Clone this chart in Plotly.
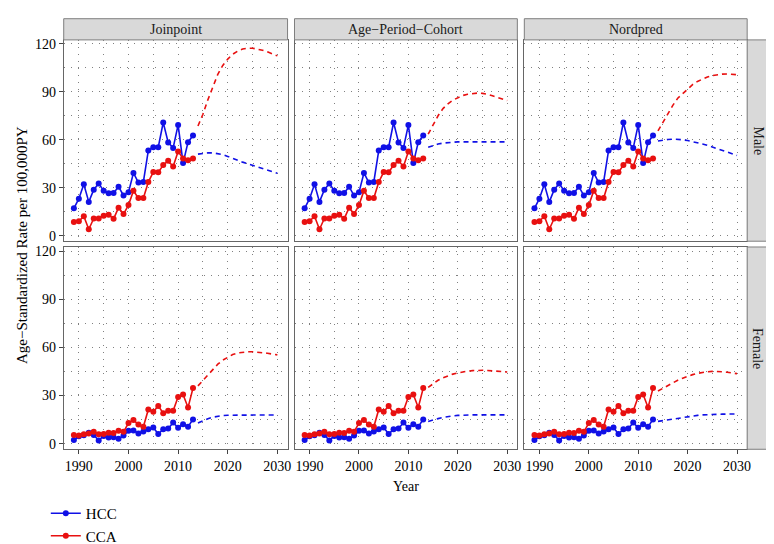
import plotly.graph_objects as go

W, H = 774, 544

obs_years = list(range(1989, 2014))
proj_years = list(range(2014, 2031))
methods = ["Joinpoint", "Age\u2212Period\u2212Cohort", "Nordpred"]
sexes = ["Male", "Female"]
x_ticks = [1990, 2000, 2010, 2020, 2030]
y_ticks = [0, 30, 60, 90, 120]

# Observed series (same in every method column)
male_hcc_obs = [17.1, 23.1, 32.2, 21.1, 28.7, 32.6, 28.1, 26.5, 26.7, 30.6, 25.1, 27.1, 39.2,
                33.2, 33.6, 53.3, 55.3, 55.3, 70.8, 58.3, 54.9, 69.3, 45.4, 58.5, 62.7]
male_cca_obs = [8.6, 9.0, 12.1, 4.0, 10.7, 10.7, 12.5, 13.1, 10.5, 17.5, 13.5, 19.1, 28.1,
                23.5, 23.5, 33.6, 39.8, 39.6, 44.2, 46.8, 43.2, 52.7, 48.2, 47.2, 48.2]
female_hcc_obs = [2.2, 4.6, 5.2, 6.8, 5.4, 2.0, 4.8, 3.8, 4.0, 3.0, 5.0, 8.0, 8.2,
                  6.4, 7.6, 9.0, 10.1, 6.0, 9.0, 9.5, 13.1, 9.9, 12.1, 10.5, 15.1]
female_cca_obs = [5.4, 5.0, 5.8, 6.4, 7.4, 5.8, 6.0, 6.8, 6.6, 8.0, 7.4, 12.8, 14.7,
                  11.9, 10.5, 21.3, 19.9, 23.5, 18.9, 20.5, 20.5, 29.1, 30.6, 22.5, 34.6]

# Projections 2014-2030
male_hcc_jp = [51.0, 51.5, 51.8, 51.8, 51.4, 50.7, 49.6, 48.3, 47.1, 46.0, 45.0, 44.0, 43.0,
               42.0, 41.0, 40.0, 39.0]
male_cca_jp = [68.6, 76.0, 85.0, 93.0, 101.0, 106.5, 110.5, 113.5, 115.5, 116.8, 117.3, 117.3,
               116.8, 116.0, 115.0, 113.8, 112.5]
male_hcc_apc = [55.3, 56.5, 57.3, 57.9, 58.3, 58.5, 58.7, 58.7, 58.7, 58.7, 58.7, 58.7, 58.7,
                58.7, 58.7, 58.7, 58.7]
male_cca_apc = [63.5, 69.5, 75.0, 79.5, 82.5, 84.8, 86.5, 87.7, 88.5, 89.0, 89.2, 89.0, 88.5,
                87.5, 86.5, 85.5, 84.5]
male_hcc_np = [59.2, 59.8, 60.2, 60.4, 60.3, 60.0, 59.5, 58.9, 58.2, 57.4, 56.5, 55.5, 54.5,
               53.4, 52.4, 51.3, 50.2]
male_cca_np = [65.5, 71.0, 76.5, 81.5, 86.0, 89.0, 92.0, 94.5, 96.5, 98.0, 99.3, 100.2, 100.8,
               101.1, 101.2, 101.0, 100.7]
female_hcc_jp = [12.8, 14.3, 15.5, 16.5, 17.1, 17.5, 17.7, 17.8, 17.8, 17.8, 17.8, 17.8, 17.8,
                 17.8, 17.8, 17.8, 17.8]
female_cca_jp = [36.0, 39.5, 43.0, 46.5, 49.5, 52.0, 54.0, 55.5, 56.5, 57.0, 57.2, 57.2, 57.0,
                 56.7, 56.3, 55.8, 55.3]
female_hcc_apc = [13.8, 14.8, 15.6, 16.3, 16.9, 17.3, 17.6, 17.8, 17.9, 17.9, 17.9, 17.9, 17.9,
                  17.9, 17.9, 17.9, 17.9]
female_cca_apc = [35.0, 37.5, 39.5, 41.0, 42.3, 43.3, 44.0, 44.7, 45.2, 45.5, 45.7, 45.7, 45.6,
                  45.4, 45.2, 44.9, 44.6]
female_hcc_np = [13.9, 14.4, 14.9, 15.4, 15.9, 16.4, 16.9, 17.3, 17.6, 17.9, 18.1, 18.2, 18.3,
                 18.4, 18.4, 18.5, 18.5]
female_cca_np = [32.8, 34.5, 36.3, 38.0, 39.5, 40.8, 42.0, 43.0, 43.8, 44.4, 44.8, 45.0, 45.0,
                 44.8, 44.5, 44.1, 43.6]

obs = {
    "Male": (male_hcc_obs, male_cca_obs),
    "Female": (female_hcc_obs, female_cca_obs),
}
proj = {
    ("Male", 0): (male_hcc_jp, male_cca_jp),
    ("Male", 1): (male_hcc_apc, male_cca_apc),
    ("Male", 2): (male_hcc_np, male_cca_np),
    ("Female", 0): (female_hcc_jp, female_cca_jp),
    ("Female", 1): (female_hcc_apc, female_cca_apc),
    ("Female", 2): (female_hcc_np, female_cca_np),
}

BLUE = "#1010e6"
RED = "#e81010"
FONT = "Liberation Serif"
GRIDC = "#808080"
GRIDDASH = "1px,6px"

col_px = [(56, 281), (288, 512), (519, 743)]
row_px = [(30, 239), (245, 455)]

def px_x(a, b):
    return [a / W, b / W]

def px_y(a, b):
    return [1 - b / H, 1 - a / H]

fig = go.Figure()
layout = {}
shapes = []
annotations = []

for r, sex in enumerate(sexes):
    for c in range(3):
        k = r * 3 + c + 1
        xa = "x" if k == 1 else f"x{k}"
        ya = "y" if k == 1 else f"y{k}"
        hcc_o, cca_o = obs[sex]
        hcc_p, cca_p = proj[(sex, c)]
        first = (k == 1)
        fig.add_trace(go.Scatter(x=obs_years, y=hcc_o, mode="lines+markers", name="HCC",
                                 legendgroup="HCC", showlegend=first,
                                 line=dict(color=BLUE, width=1.6),
                                 marker=dict(color=BLUE, size=6), xaxis=xa, yaxis=ya))
        fig.add_trace(go.Scatter(x=obs_years, y=cca_o, mode="lines+markers", name="CCA",
                                 legendgroup="CCA", showlegend=first,
                                 line=dict(color=RED, width=1.6),
                                 marker=dict(color=RED, size=6), xaxis=xa, yaxis=ya))
        fig.add_trace(go.Scatter(x=proj_years, y=hcc_p, mode="lines", name="HCC",
                                 legendgroup="HCC", showlegend=False,
                                 line=dict(color=BLUE, width=1.6, dash="5px,4px"),
                                 xaxis=xa, yaxis=ya))
        fig.add_trace(go.Scatter(x=proj_years, y=cca_p, mode="lines", name="CCA",
                                 legendgroup="CCA", showlegend=False,
                                 line=dict(color=RED, width=1.6, dash="5px,4px"),
                                 xaxis=xa, yaxis=ya))

        grid = dict(showgrid=True, gridcolor=GRIDC, gridwidth=1, griddash=GRIDDASH)
        xkey = "xaxis" if k == 1 else f"xaxis{k}"
        ykey = "yaxis" if k == 1 else f"yaxis{k}"
        layout[xkey] = dict(
            domain=px_x(*col_px[c]), anchor=ya, range=[1986.95, 2032.05],
            tickvals=x_ticks, showticklabels=(r == 1), ticks="outside" if r == 1 else "",
            ticklen=4, tickcolor="#444", tickfont=dict(family=FONT, size=14, color="black"),
            showline=True, mirror=True, linecolor="#666", linewidth=1, zeroline=False,
            minor=dict(dtick=5, tick0=1990, showgrid=True, gridcolor=GRIDC,
                       griddash=GRIDDASH, gridwidth=1, ticks=""),
            **grid)
        layout[ykey] = dict(
            domain=px_y(*row_px[r]), anchor=xa, range=[-3.5, 122.5],
            tickvals=y_ticks, showticklabels=(c == 0), ticks="outside" if c == 0 else "",
            ticklen=4, tickcolor="#444", tickfont=dict(family=FONT, size=14, color="black"),
            showline=True, mirror=True, linecolor="#666", linewidth=1, zeroline=False,
            minor=dict(dtick=15, tick0=0, showgrid=True, gridcolor=GRIDC,
                       griddash=GRIDDASH, gridwidth=1, ticks=""),
            **grid)

# strips
for c, m in enumerate(methods):
    a, b = col_px[c]
    shapes.append(dict(type="rect", xref="paper", yref="paper",
                       x0=a / W, x1=b / W, y0=1 - 30 / H, y1=1 - 8 / H,
                       fillcolor="#d9d9d9", line=dict(color="#7f7f7f", width=1)))
    annotations.append(dict(text=m, xref="paper", yref="paper", x=(a + b) / 2 / W,
                            y=1 - 19 / H, showarrow=False, xanchor="center", yanchor="middle",
                            font=dict(family=FONT, size=14, color="#1a1a1a")))
for r, s in enumerate(sexes):
    a, b = row_px[r]
    shapes.append(dict(type="rect", xref="paper", yref="paper",
                       x0=743 / W, x1=765 / W, y0=1 - b / H, y1=1 - a / H,
                       fillcolor="#d9d9d9", line=dict(color="#7f7f7f", width=1)))
    annotations.append(dict(text=s, xref="paper", yref="paper", x=754 / W,
                            y=1 - (a + b) / 2 / H, showarrow=False, textangle=90,
                            xanchor="center", yanchor="middle",
                            font=dict(family=FONT, size=14, color="#1a1a1a")))

annotations.append(dict(text="Age\u2212Standardized Rate per 100,000PY", xref="paper", yref="paper",
                        x=14 / W, y=1 - 243 / H, showarrow=False, textangle=-90,
                        xanchor="center", yanchor="middle",
                        font=dict(family=FONT, size=15, color="black")))
annotations.append(dict(text="Year", xref="paper", yref="paper",
                        x=400 / W, y=1 - 494 / H, showarrow=False,
                        xanchor="center", yanchor="middle",
                        font=dict(family=FONT, size=14, color="black")))

fig.update_layout(
    width=W, height=H,
    margin=dict(l=0, r=0, t=0, b=0),
    paper_bgcolor="white", plot_bgcolor="white",
    showlegend=True,
    legend=dict(x=38 / W, y=1 - 505 / H, xanchor="left", yanchor="top",
                orientation="v", itemwidth=30, tracegroupgap=0,
                font=dict(family=FONT, size=15, color="black"),
                bgcolor="rgba(0,0,0,0)"),
    shapes=shapes, annotations=annotations,
    **layout,
)

fig.write_html("out.html")
